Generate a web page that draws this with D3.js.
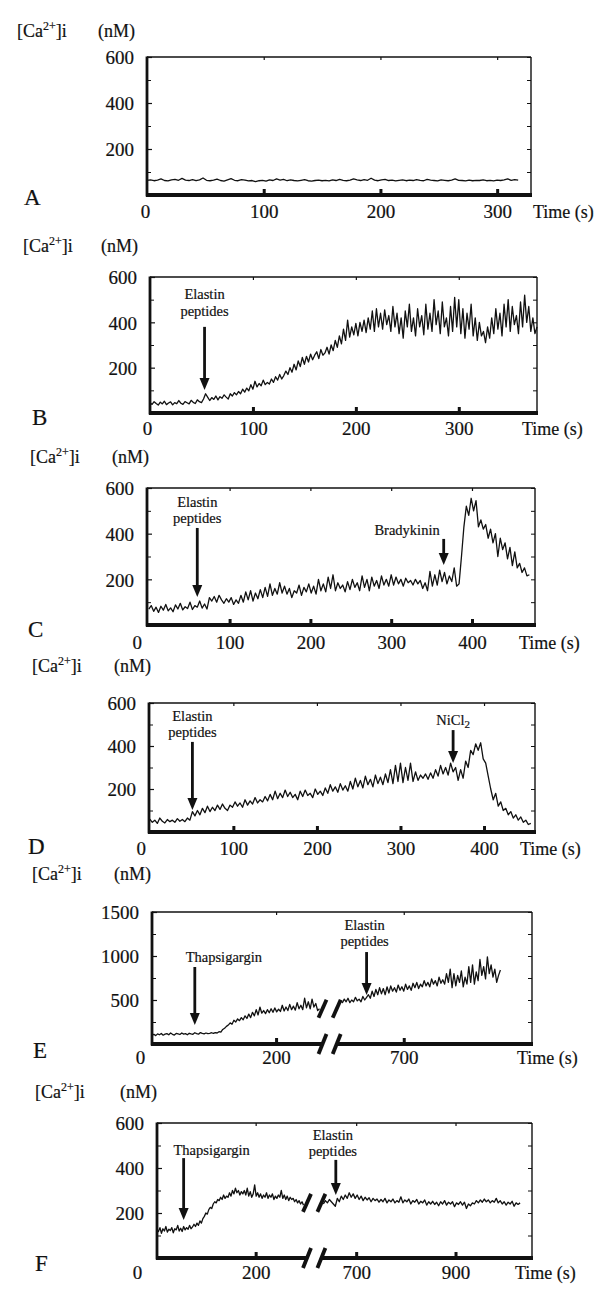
<!DOCTYPE html>
<html><head><meta charset="utf-8">
<script src="https://cdn.jsdelivr.net/npm/d3@7"></script>
<style>
html,body{margin:0;padding:0;background:#fff;}
svg text{font-family:"Liberation Serif","Times New Roman",serif;fill:#111;stroke:#111;stroke-width:0.2;}
</style></head><body>
<svg id="chart" width="600" height="1298"></svg>
<script>
// ---------------- DATA ----------------
const panelLetters = ["A","B","C","D","E","F"];
const yTicks600 = [200,400,600];
const yMinor600 = [100,300,500];
const yTicks1500 = [500,1000,1500];
const yMinor1500 = [250,750,1250];

// Panel A : time step 3 s
const stepA = 3;
const valuesA = [64,66,62,65,70,63,61,66,68,64,72,65,63,67,62,66,74,64,62,65,69,63,60,66,71,64,62,67,65,61,63,58,62,64,60,66,63,70,65,68,62,66,63,61,64,67,62,60,63,65,62,64,61,66,63,68,64,62,65,70,66,63,67,64,73,65,62,66,68,63,65,61,64,66,62,65,63,67,64,62,68,65,63,61,66,64,62,65,70,64,63,61,65,62,64,63,66,62,64,61,65,63,66,70,64,67,65];
const xDomainA = [0,329];
const xTicksA = [0,100,200,300];

// Panel B : time step 2 s
const stepB = 2;
const valuesB = [45,38,50,42,35,48,40,52,37,44,49,36,46,41,55,43,38,50,45,40,56,47,42,58,50,46,62,
85,70,55,68,60,75,58,72,65,80,70,62,85,75,90,80,95,85,105,92,110,98,125,105,140,115,130,120,145,125,
135,128,150,135,160,145,170,150,165,185,170,200,180,215,190,230,205,245,215,250,225,260,235,255,270,240,280,255,265,290,
260,300,275,320,290,340,305,370,320,410,335,380,345,395,340,400,360,410,355,420,370,450,360,460,380,440,370,455,390,430,
360,470,380,440,350,420,330,450,380,480,360,420,340,460,380,430,345,480,370,440,360,500,390,450,350,490,380,420,340,470,
360,510,380,500,350,460,330,440,370,480,340,420,320,400,340,360,310,380,330,420,350,460,370,440,340,480,380,500,360,470,
390,430,350,490,380,520,400,470,360,420,350,380];
const xDomainB = [0,376];
const xTicksB = [0,100,200,300];

// Panel C : time step 3 s
const stepC = 3;
const valuesC = [70,85,60,78,55,82,65,90,62,75,58,88,70,95,66,80,72,100,68,85,78,105,74,92,
70,120,105,125,100,130,110,95,115,100,120,90,110,95,130,100,145,110,150,105,140,115,155,120,165,125,180,130,160,135,
185,140,170,135,160,120,150,140,175,130,165,145,180,140,170,135,200,150,180,145,210,160,220,150,185,160,175,145,190,155,
200,165,185,150,215,165,200,150,210,170,195,160,215,175,200,170,220,175,210,180,200,170,205,185,195,175,200,180,195,160,
185,150,235,170,220,175,240,190,230,180,215,190,250,170,
180,300,430,520,480,555,500,545,430,460,420,440,380,420,360,400,300,380,330,360,290,340,260,320,250,270,230,250,215,220];
const xDomainC = [0,478];
const xTicksC = [0,100,200,300,400];

// Panel D : time step 3 s
const stepD = 3;
const valuesD = [60,45,55,40,65,50,42,58,48,55,45,62,50,58,48,65,55,
95,75,100,80,110,90,120,95,115,100,125,105,130,110,100,125,115,140,120,135,
115,150,125,145,130,160,135,150,140,165,145,175,150,190,155,180,160,195,165,185,
160,175,150,190,165,195,170,180,160,200,175,190,170,205,180,220,190,210,185,225,
195,215,190,235,200,250,210,240,205,260,220,245,210,265,225,255,220,270,230,290,
225,310,235,320,230,300,240,320,235,280,240,265,250,270,245,275,250,290,260,310,
270,300,265,320,280,300,240,290,250,330,300,380,360,410,380,415,340,320,260,200,
150,180,120,140,100,110,80,95,65,80,55,70,45,55,35,40];
const xDomainD = [0,461];
const xTicksD = [0,100,200,300,400];

// Panel E : broken time axis, step 3 s
const stepE = 3;
const valuesE1 = [100,110,95,115,105,120,100,112,118,105,125,110,102,120,115,108,125,112,118,105,122,115,110,128,118,112,130,120,115,125,118,122,128,120,
130,125,140,135,165,180,200,215,240,225,270,250,285,265,300,275,320,290,340,300,
360,320,390,330,420,350,380,345,390,355,400,360,410,365,395,370,440,375,420,380,
450,390,430,385,470,400,440,390,520,410,480,400,510,420,460,380,400];
const valuesE2 = [460,490,470,510,480,520,470,500,480,530,490,510,480,540,500,530,560,520,600,540,
620,560,640,570,630,560,650,580,660,600,640,590,670,610,650,600,680,620,660,610,
690,640,700,630,680,650,720,660,700,650,740,680,720,660,760,690,730,680,800,700,
850,640,800,660,780,700,830,650,760,680,880,700,900,680,820,720,960,780,880,740,
990,800,900,760,850,700,780,840];
const xDomainE1 = [0,270], xDomainE2 = [595,907];
const xTicksE1 = [0,200], xTicksE2 = [700];
const startE1 = 0, startE2 = 595;

// Panel F : broken time axis
const stepF1 = 3, stepF2 = 4;
const valuesF1 = [125,118,135,110,130,120,140,115,128,122,135,112,130,125,145,120,132,118,140,125,135,128,145,130,138,150,
140,155,145,165,155,175,185,200,195,215,225,220,240,250,245,260,255,270,260,280,
265,275,270,290,275,300,285,310,290,300,280,295,285,300,280,310,275,295,270,285,
325,275,290,270,285,265,280,270,290,265,280,270,285,260,275,265,280,270,300,265,
280,260,275,255,270,260,265,250,260,245,255,240,250,235];
const valuesF2 = [240,255,245,260,250,240,230,265,250,275,260,280,265,290,270,285,265,280,260,275,
255,270,258,268,250,265,255,262,248,260,250,265,245,258,250,262,245,255,248,272,
245,258,250,262,240,255,248,260,240,252,245,258,235,250,240,252,238,248,232,250,
240,255,235,248,240,250,228,245,238,250,235,248,220,240,232,245,240,255,245,258,
248,262,250,258,245,255,248,265,245,255,240,250,235,248,240,252,230,245,238,245];
const xDomainF1 = [0,298], xDomainF2 = [634,1054];
const xTicksF1 = [0,200], xTicksF2 = [700,900];
const startF1 = 0, startF2 = 634;

// Annotations: time (s), arrow top (nM), arrow tip (nM)
const arrowTimes  = {B:[53], C:[60,365], D:[51,363], E:[69,640], F:[54,659]};
const arrowTops   = {B:[380], C:[425,377], D:[419,474], E:[875,1045], F:[444,436]};
const arrowTips   = {B:[101], C:[123,263], D:[102,321], E:[216,557], F:[169,280]};
const arrowLabels = {B:[["Elastin","peptides"]], C:[["Elastin","peptides"],["Bradykinin"]],
                     D:[["Elastin","peptides"],["NiCl","2"]], E:[["Thapsigargin"],["Elastin","peptides"]],
                     F:[["Thapsigargin"],["Elastin","peptides"]]};
const yTitle = "(nM)", xTitle = "Time (s)";

// ---------------- LAYOUT ----------------
const layout = {
 A:{left:147,right:531,top:57,bottom:195, caX:17, caY:37, nmX:98, letterX:24, letterY:205, tickBase:218, timeX:533, zeroDx:-2,
    ranges:[[147,531]]},
 B:{left:150,right:537,top:277,bottom:413, caX:23, caY:252, nmX:101, letterX:32, letterY:425, tickBase:435, timeX:522, zeroDx:-3,
    ranges:[[150,537]]},
 C:{left:147,right:535,top:488,bottom:625, caX:30, caY:463, nmX:112, letterX:28, letterY:637, tickBase:649, timeX:519, zeroDx:-12,
    ranges:[[148.8,535]]},
 D:{left:149,right:535,top:703,bottom:832, caX:32, caY:672, nmX:114, letterX:28, letterY:854, tickBase:855, timeX:520, zeroDx:-9,
    ranges:[[149.8,535]]},
 E:{left:152,right:532,top:912,bottom:1044, caX:32, caY:880, nmX:114, letterX:33, letterY:1058, tickBase:1064, timeX:517, zeroDx:-12,
    ranges:[[152,319.5],[338.7,532]], breakVal:400},
 F:{left:157,right:532,top:1123,bottom:1258, caX:35, caY:1098, nmX:120, letterX:35, letterY:1271, tickBase:1279, timeX:515, zeroDx:-20,
    ranges:[[157,304],[323.4,532]], breakVal:245}
};
// per-arrow text placement: [dx, gap above arrow top, line gap, anchor]
const arrowText = {
 B:[[0,11,17,"middle"]],
 C:[[0,5,16,"middle"],[-4,4,0,"end"]],
 D:[[0,5,16,"middle"],[0,5,0,"middle"]],
 E:[[29,5,0,"middle"],[-2,6,16,"middle"]],
 F:[[28,3,0,"middle"],[-3,4,16,"middle"]]
};

const panels = {
 A:{yMax:600, yTicks:yTicks600, yMinor:yMinor600, segs:[{domain:xDomainA, ticks:xTicksA, start:0, step:stepA, values:valuesA}]},
 B:{yMax:600, yTicks:yTicks600, yMinor:yMinor600, segs:[{domain:xDomainB, ticks:xTicksB, start:0, step:stepB, values:valuesB}]},
 C:{yMax:600, yTicks:yTicks600, yMinor:yMinor600, segs:[{domain:xDomainC, ticks:xTicksC, start:0, step:stepC, values:valuesC}]},
 D:{yMax:600, yTicks:yTicks600, yMinor:yMinor600, segs:[{domain:xDomainD, ticks:xTicksD, start:0, step:stepD, values:valuesD}]},
 E:{yMax:1500, yTicks:yTicks1500, yMinor:yMinor1500, segs:[
     {domain:xDomainE1, ticks:xTicksE1, start:startE1, step:stepE, values:valuesE1},
     {domain:xDomainE2, ticks:xTicksE2, start:startE2, step:stepE, values:valuesE2}]},
 F:{yMax:600, yTicks:yTicks600, yMinor:yMinor600, segs:[
     {domain:xDomainF1, ticks:xTicksF1, start:startF1, step:stepF1, values:valuesF1},
     {domain:xDomainF2, ticks:xTicksF2, start:startF2, step:stepF2, values:valuesF2}]}
};

const svg = d3.select("#chart");
const INK = "#111";
const TICKFONT = 19, TITLEFONT = 18, LETTERFONT = 23, NOTEFONT = 14.5;

function drawPanel(name){
  const P = panels[name], L = layout[name];
  const g = svg.append("g").attr("class","panel-"+name);
  const y = d3.scaleLinear().domain([0,P.yMax]).range([L.bottom, L.top]);
  const segs = P.segs.map((s,i)=>Object.assign({}, s, {x:d3.scaleLinear().domain(s.domain).range(L.ranges[i])}));
  const broken = segs.length > 1;

  // frame: top and right thin
  g.append("line").attr("x1",L.left).attr("x2",L.right).attr("y1",L.top).attr("y2",L.top)
    .attr("stroke",INK).attr("stroke-width",1.4);
  g.append("line").attr("x1",L.right).attr("x2",L.right).attr("y1",L.top).attr("y2",L.bottom)
    .attr("stroke",INK).attr("stroke-width",1.4);
  // left axis
  g.append("line").attr("x1",L.left).attr("x2",L.left).attr("y1",L.top-0.5).attr("y2",L.bottom+1.5)
    .attr("stroke",INK).attr("stroke-width",2.8);

  // y ticks/labels left (inward ticks)
  const yAx = g.append("g").attr("transform",`translate(${L.left},0)`)
    .call(d3.axisLeft(y).tickValues(P.yTicks).tickSize(-5).tickPadding(13).tickFormat(d3.format("d")));
  yAx.select(".domain").remove();
  yAx.selectAll(".tick line").attr("stroke",INK).attr("stroke-width",1.2);
  yAx.selectAll(".tick text").attr("font-size",TICKFONT).attr("font-family","Liberation Serif").attr("fill",INK).attr("dy","0.36em");
  const yMin = g.append("g").attr("transform",`translate(${L.left},0)`)
    .call(d3.axisLeft(y).tickValues(P.yMinor).tickSize(-4).tickFormat(""));
  yMin.select(".domain").remove();
  yMin.selectAll(".tick line").attr("stroke",INK).attr("stroke-width",1);
  // right side inward ticks
  const yR = g.append("g").attr("transform",`translate(${L.right},0)`)
    .call(d3.axisRight(y).tickValues(P.yTicks.concat(P.yMinor)).tickSize(-4).tickFormat(""));
  yR.select(".domain").remove();
  yR.selectAll(".tick line").attr("stroke",INK).attr("stroke-width",1);

  // x axes per segment
  segs.forEach((s,i)=>{
    const xa = g.append("g").attr("transform",`translate(0,${L.bottom})`)
      .call(d3.axisBottom(s.x).tickValues(s.ticks).tickSize(-6).tickPadding(0).tickFormat(d3.format("d")));
    xa.select(".domain").remove();
    xa.selectAll(".tick line").attr("stroke",INK).attr("stroke-width",3)
      .attr("display",d=>d===0?"none":null);
    xa.selectAll(".tick text").attr("font-size",TICKFONT).attr("font-family","Liberation Serif").attr("fill",INK)
      .attr("y", L.tickBase - L.bottom).attr("dy",0)
      .attr("dx", d=> d===0 ? L.zeroDx : 0);
    const xt = g.append("g").attr("transform",`translate(0,${L.top})`)
      .call(d3.axisTop(s.x).tickValues(s.ticks.filter(v=>v>0)).tickSize(-3).tickFormat(""));
    xt.select(".domain").remove();
    xt.selectAll(".tick line").attr("stroke",INK).attr("stroke-width",1.2);
  });

  // bottom axis line (thick), broken if needed
  if(!broken){
    g.append("line").attr("x1",L.left-1).attr("x2",L.right+1).attr("y1",L.bottom).attr("y2",L.bottom)
      .attr("stroke",INK).attr("stroke-width",3.8);
  } else {
    const b1 = L.ranges[0][1]+3, b2 = L.ranges[1][0]-2;
    g.append("line").attr("x1",L.left-1).attr("x2",b1).attr("y1",L.bottom).attr("y2",L.bottom)
      .attr("stroke",INK).attr("stroke-width",3.8);
    g.append("line").attr("x1",b2).attr("x2",L.right+1).attr("y1",L.bottom).attr("y2",L.bottom)
      .attr("stroke",INK).attr("stroke-width",3.8);
    const by = y(L.breakVal);
    [b1,b2].forEach(bx=>{
      g.append("line").attr("x1",bx-4).attr("x2",bx+4).attr("y1",L.bottom+10).attr("y2",L.bottom-10)
        .attr("stroke",INK).attr("stroke-width",3.8);
      g.append("line").attr("x1",bx-4).attr("x2",bx+4).attr("y1",by+9).attr("y2",by-9)
        .attr("stroke",INK).attr("stroke-width",3.8);
    });
  }

  // traces
  segs.forEach(s=>{
    const pts = s.values.map((v,i)=>({t:s.start+i*s.step, v:v}));
    const line = d3.line().x(d=>s.x(d.t)).y(d=>y(d.v));
    g.append("path").datum(pts).attr("d",line).attr("fill","none")
      .attr("stroke",INK).attr("stroke-width",1.3).attr("stroke-linejoin","round");
  });

  // arrows
  const times = arrowTimes[name] || [];
  times.forEach((t,i)=>{
    const s = segs.find(sg=>t>=sg.domain[0] && t<=sg.domain[1]);
    const ax = s.x(t), yTop = y(arrowTops[name][i]), yTip = y(arrowTips[name][i]);
    g.append("line").attr("x1",ax).attr("x2",ax).attr("y1",yTop).attr("y2",yTip-10)
      .attr("stroke",INK).attr("stroke-width",2.8);
    g.append("path").attr("d",`M${ax-5},${yTip-12}L${ax+5},${yTip-12}L${ax},${yTip}Z`).attr("fill",INK);
    const [dx,gap,lg,anchor] = arrowText[name][i];
    const lines = arrowLabels[name][i];
    if(lines[0]==="NiCl"){
      const tx = g.append("text").attr("x",ax+dx).attr("y",yTop-gap).attr("text-anchor",anchor).attr("font-size",NOTEFONT);
      tx.append("tspan").text("NiCl");
      tx.append("tspan").text(lines[1]).attr("font-size",11).attr("dy",3);
    } else {
      const n = lines.length;
      lines.forEach((ln,k)=>{
        g.append("text").attr("x",ax+dx).attr("y",yTop-gap-(n-1-k)*lg).attr("text-anchor",anchor)
          .attr("font-size",NOTEFONT).text(ln);
      });
    }
  });

  // titles
  const ca = g.append("text").attr("x",L.caX).attr("y",L.caY).attr("font-size",TITLEFONT);
  ca.append("tspan").text("[Ca");
  ca.append("tspan").text("2+").attr("font-size",12).attr("dy",-7);
  ca.append("tspan").text("]i").attr("dy",7);
  g.append("text").attr("x",L.nmX).attr("y",L.caY).attr("font-size",TITLEFONT).text(yTitle);
  g.append("text").attr("x",L.timeX).attr("y",L.tickBase).attr("font-size",TITLEFONT).text(xTitle);
  g.append("text").attr("x",L.letterX).attr("y",L.letterY).attr("font-size",LETTERFONT).text(name);
}

panelLetters.forEach(drawPanel);
</script>
</body></html>
